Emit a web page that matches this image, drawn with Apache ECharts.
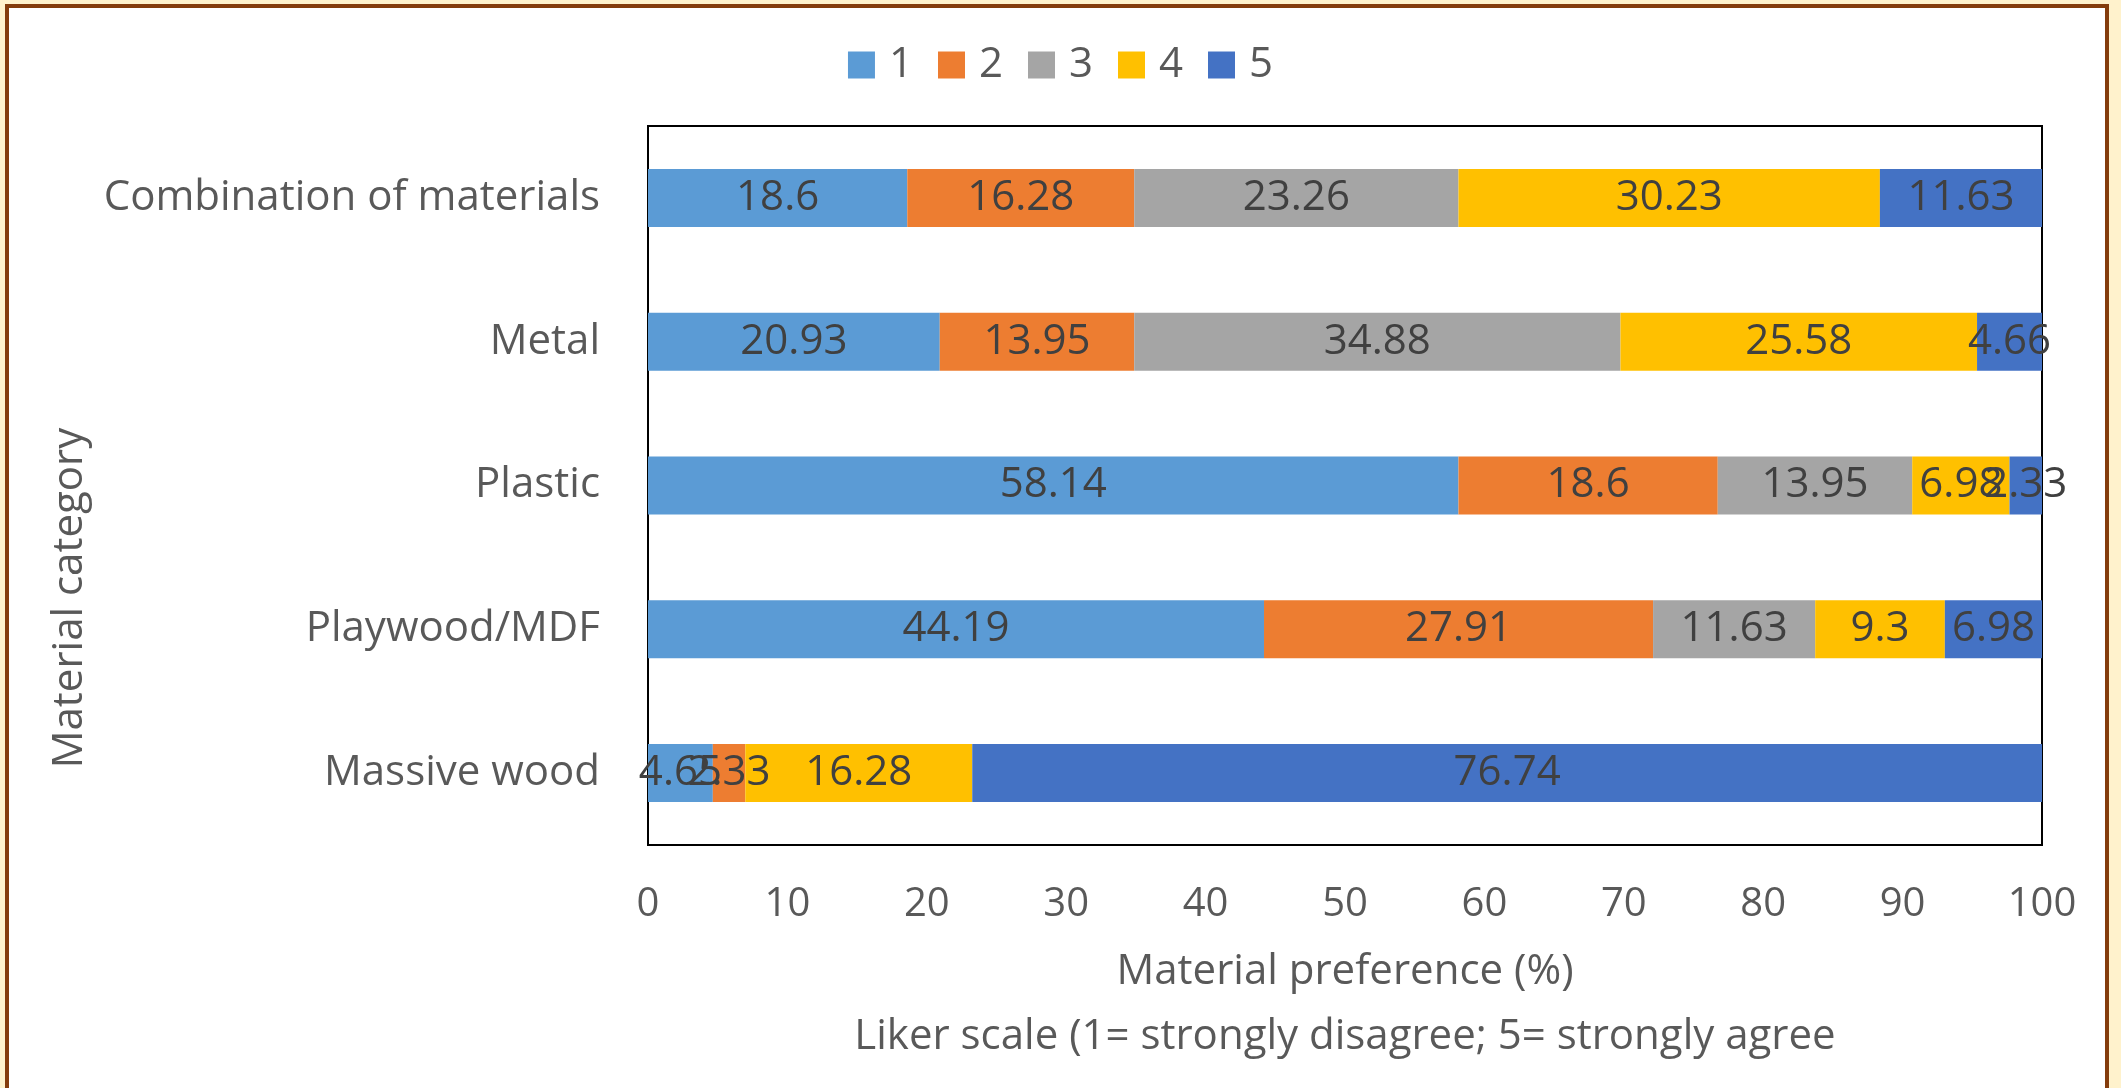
<!DOCTYPE html>
<html>
<head>
<meta charset="utf-8">
<script src="https://cdn.jsdelivr.net/npm/echarts@6/dist/echarts.min.js"></script>
<style>
  html, body { margin: 0; padding: 0; background: #FFF2CC; overflow: hidden; }
  #frame { position: absolute; left: 5px; top: 4px; width: 2096px; height: 1200px;
           border: 4px solid #843C0C; background: #ffffff; }
  #chart { position: absolute; left: 0; top: 0; width: 2121px; height: 1088px; }
</style>
</head>
<body>
<div id="frame"></div>
<div id="chart"></div>
<script>
// Material categories, listed bottom to top
const categories = ['Massive wood', 'Playwood/MDF', 'Plastic', 'Metal', 'Combination of materials'];
// Likert response shares (%) per category
const likert1 = [4.65, 44.19, 58.14, 20.93, 18.6];
const likert2 = [2.33, 27.91, 18.6, 13.95, 16.28];
const likert3 = [null, 11.63, 13.95, 34.88, 23.26];
const likert4 = [16.28, 9.3, 6.98, 25.58, 30.23];
const likert5 = [76.74, 6.98, 2.33, 4.66, 11.63];
const seriesNames = ['1', '2', '3', '4', '5'];
const seriesData = [likert1, likert2, likert3, likert4, likert5];
const colors = ['#5B9BD5', '#ED7D31', '#A5A5A5', '#FFC000', '#4472C4'];

const FONT = '"Open Sans", "Noto Sans", sans-serif';

const chart = echarts.init(document.getElementById('chart'), null, { renderer: 'canvas' });

chart.setOption({
  backgroundColor: 'transparent',
  color: colors,
  animation: false,
  textStyle: { fontFamily: FONT },
  legend: {
    left: 'center',
    top: 39,
    icon: 'rect',
    itemWidth: 27,
    itemHeight: 27,
    itemGap: 25,
    data: seriesNames,
    textStyle: { fontSize: 42, color: '#595959', fontFamily: FONT, padding: [0, 0, 0, 9] }
  },
  grid: {
    left: 648,
    right: 79,
    top: 126,
    height: 719,
    show: true,
    backgroundColor: '#ffffff',
    borderColor: '#000000',
    borderWidth: 2
  },
  xAxis: {
    type: 'value',
    min: 0,
    max: 100,
    interval: 10,
    axisLine: { show: false },
    axisTick: { show: false },
    splitLine: { show: false },
    axisLabel: { fontSize: 40, color: '#595959', margin: 40, fontFamily: FONT },
    name: 'Material preference (%)\nLiker scale (1= strongly disagree; 5= strongly agree',
    nameLocation: 'middle',
    nameGap: 95,
    nameTextStyle: { fontSize: 42, color: '#595959', lineHeight: 65, fontFamily: FONT }
  },
  yAxis: {
    type: 'category',
    data: categories,
    axisLine: { show: false },
    axisTick: { show: false },
    splitLine: { show: false },
    axisLabel: { fontSize: 42, color: '#595959', margin: 48, fontFamily: FONT }
  },
  graphic: [{
    type: 'text',
    x: 70,
    y: 598,
    rotation: Math.PI / 2,
    style: {
      text: 'Material category',
      fontSize: 42,
      fontFamily: FONT,
      fill: '#595959',
      align: 'center',
      verticalAlign: 'middle'
    }
  }],
  series: seriesNames.map((name, i) => ({
    name: name,
    type: 'bar',
    stack: 'total',
    barWidth: 58,
    data: seriesData[i],
    itemStyle: { color: colors[i] },
    label: {
      show: true,
      position: 'inside',
      fontSize: 42,
      color: '#404040',
      fontFamily: FONT
    }
  }))
});
</script>
</body>
</html>
